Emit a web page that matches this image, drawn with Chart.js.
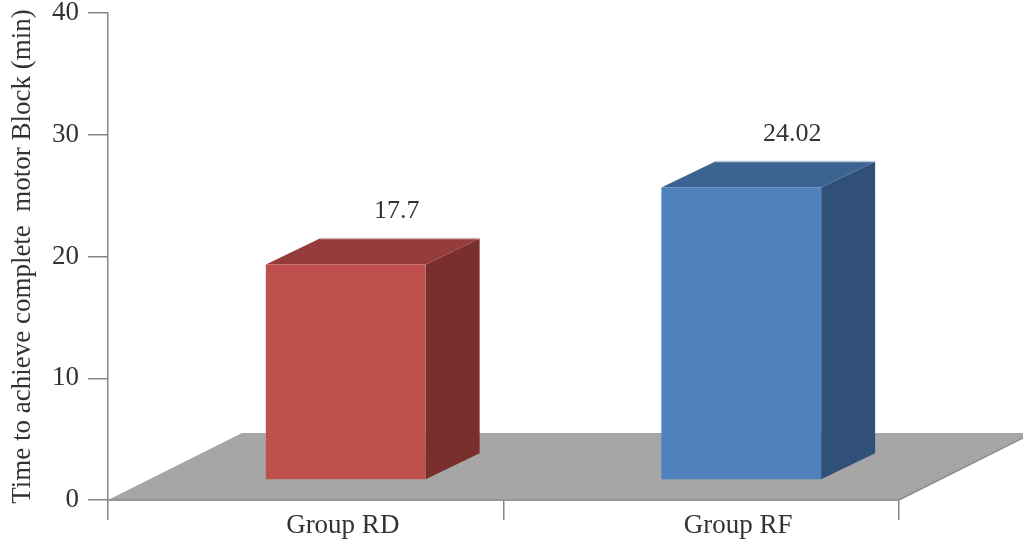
<!DOCTYPE html>
<html>
<head>
<meta charset="utf-8">
<script src="https://cdn.jsdelivr.net/npm/chart.js@4"></script>
<style>
    html, body { margin: 0; padding: 0; background: #fff; }
    #wrap { width: 1023px; height: 544px; }
</style>
</head>
<body>
<div id="wrap"><canvas id="blockChart"></canvas></div>
<script>
const groups     = ["Group RD", "Group RF"];
const blockTimes = [17.7, 24.02];
const yTicks     = [0, 10, 20, 30, 40];

const frontColors = ["#c0504d", "#4f81bd"];
const sideColors  = ["#782f2e", "#30507a"];
const topColors   = ["#933c3a", "#3c6391"];
const edgeColors  = ["#d8b4b3", "#b9c9de"];

const FONT = "'Liberation Serif', 'Times New Roman', serif";
const FONT_SIZE = 27;

// floor runs back this far, bars sit a bit into it
const floorDepth = { dx: 134, dy: -67 };
const barShift   = { dx: 40,  dy: -20 };
const barDepth   = { dx: 54,  dy: -26 };

function poly(ctx, pts, fill){
    ctx.beginPath();
    ctx.moveTo(pts[0][0], pts[0][1]);
    for(let i = 1; i < pts.length; i++) ctx.lineTo(pts[i][0], pts[i][1]);
    ctx.closePath();
    ctx.fillStyle = fill;
    ctx.fill();
}

const box3d = {
    id: "box3d",
    beforeDatasetsDraw(chart){
        const ctx = chart.ctx;
        const a = chart.chartArea;

        // grey floor
        ctx.save();
        poly(ctx, [
            [a.left, a.bottom],
            [a.right, a.bottom],
            [a.right + floorDepth.dx, a.bottom + floorDepth.dy],
            [a.left + floorDepth.dx, a.bottom + floorDepth.dy]
        ], "#a6a6a6");
        ctx.strokeStyle = "#8c8c8c";
        ctx.lineWidth = 1.5;
        ctx.beginPath();
        ctx.moveTo(a.left, a.bottom);
        ctx.lineTo(a.right, a.bottom);
        ctx.lineTo(a.right + floorDepth.dx, a.bottom + floorDepth.dy);
        ctx.stroke();
        ctx.restore();

        // bars are drawn pushed back into the floor
        ctx.save();
        ctx.translate(barShift.dx, barShift.dy);

        chart.getDatasetMeta(0).data.forEach((bar, i) => {
            const xl = bar.x - bar.width / 2;
            const xr = bar.x + bar.width / 2;
            const yt = bar.y;
            const yb = bar.base;
            poly(ctx, [[xr, yt], [xr + barDepth.dx, yt + barDepth.dy],
                       [xr + barDepth.dx, yb + barDepth.dy], [xr, yb]], sideColors[i]);
            poly(ctx, [[xl, yt], [xr, yt],
                       [xr + barDepth.dx, yt + barDepth.dy], [xl + barDepth.dx, yt + barDepth.dy]], topColors[i]);
            ctx.strokeStyle = edgeColors[i];
            ctx.lineWidth = 1.5;
            ctx.beginPath();
            ctx.moveTo(xl + barDepth.dx, yt + barDepth.dy);
            ctx.lineTo(xr + barDepth.dx, yt + barDepth.dy);
            ctx.stroke();
        });
    },
    afterDatasetsDraw(chart){
        const ctx = chart.ctx;
        ctx.restore();

        // value labels above each box
        ctx.save();
        ctx.font = `${FONT_SIZE - 1}px ${FONT}`;
        ctx.fillStyle = "#333";
        ctx.textAlign = "center";
        ctx.textBaseline = "middle";
        chart.getDatasetMeta(0).data.forEach((bar, i) => {
            const x = bar.x + barShift.dx + barDepth.dx / 2 + 24;
            const y = bar.y + barShift.dy + barDepth.dy - 27;
            ctx.fillText(String(blockTimes[i]), x, y);
        });
        ctx.restore();
    }
};

new Chart(document.getElementById("blockChart"), {
    type: "bar",
    data: {
        labels: groups,
        datasets: [{
            data: blockTimes,
            backgroundColor: frontColors,
            borderWidth: 0,
            categoryPercentage: 1,
            barPercentage: 0.404
        }]
    },
    options: {
        responsive: true,
        maintainAspectRatio: false,
        animation: false,
        layout: { padding: { top: 13, right: 124, left: 0, bottom: 0 } },
        plugins: {
            legend:  { display: false },
            tooltip: { enabled: false }
        },
        scales: {
            x: {
                grid: {
                    offset: true,
                    drawOnChartArea: false,
                    drawTicks: true,
                    tickLength: 20,
                    color: "#868686",
                    lineWidth: 1.5
                },
                border: { color: "#868686", width: 1.5 },
                ticks: {
                    color: "#333",
                    font: { family: FONT, size: FONT_SIZE, lineHeight: 1.2 },
                    padding: -10,
                    labelOffset: 37,
                    maxRotation: 0
                },
                afterFit(scale){ scale.height = 44; }
            },
            y: {
                min: 0,
                max: 40,
                afterBuildTicks(scale){ scale.ticks = yTicks.map(v => ({ value: v })); },
                grid: {
                    drawOnChartArea: false,
                    drawTicks: true,
                    tickLength: 20,
                    color: "#868686",
                    lineWidth: 1.5
                },
                border: { color: "#868686", width: 1.5 },
                ticks: {
                    color: "#333",
                    font: { family: FONT, size: FONT_SIZE, lineHeight: 1 },
                    padding: 9
                },
                title: {
                    display: true,
                    text: "Time to achieve complete  motor Block (min)",
                    color: "#333",
                    font: { family: FONT, size: FONT_SIZE, lineHeight: 1.2 },
                    padding: { top: 7, bottom: 0 }
                },
                afterFit(scale){
                    scale.width = 108;
                    scale.paddingTop = 0;
                    scale.paddingBottom = 0;
                }
            }
        }
    },
    plugins: [box3d]
});
</script>
</body>
</html>
